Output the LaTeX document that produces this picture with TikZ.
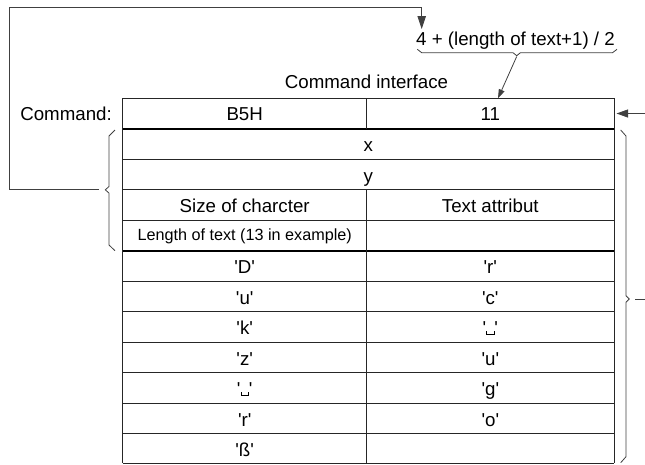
\documentclass[tikz,border=0pt]{standalone}
\usepackage{fontspec}
\newfontfamily\af{Liberation Sans}[Ligatures=TeXOff]
\usetikzlibrary{arrows.meta}
\newcommand{\vsp}{\leavevmode\hbox{\vrule width 0.9pt height 3.2pt\vrule width 6.5pt height 0.9pt\vrule width 0.9pt height 3.2pt}}
\begin{document}
\begin{tikzpicture}[x=1pt,y=-1pt,
  every node/.style={font=\af\fontsize{18.7}{21}\selectfont, inner sep=0pt},
  cell/.style={anchor=base},
  small/.style={anchor=base, font=\af\fontsize{16.2}{19}\selectfont},
  thin/.style={line width=0.8pt, draw=black!85},
  thick/.style={line width=1.5pt, draw=black},
  conn/.style={line width=0.8pt, draw=black!75},
  brace/.style={line width=0.8pt, draw=black!75, line join=miter}]
\useasboundingbox (0,0) rectangle (645,464);
% table grid
\foreach \yy in {159.3,189.8,220.3,281.3,311.8,342.3,372.8,403.3,433.8}
  \draw[thin] (122.7,\yy) -- (614,\yy);
\draw[thin] (122.7,98.3) -- (614,98.3);
\draw[thin] (122.7,463.4) -- (614,463.4);
\draw[thick] (122.7,128.8) -- (614,128.8);
\draw[thick] (122.7,250.8) -- (614,250.8);
\draw[thin] (122.7,98.3) -- (122.7,463.4);
\draw[thin] (614,98.3) -- (614,463.4);
\draw[thin] (366.7,98.3) -- (366.7,128.8);
\draw[thin] (366.7,189.8) -- (366.7,463.4);
% labels
\node[cell] (title) at (366.5,88.3) {Command interface};
\node[anchor=base east] (cmd) at (112,120.5) {Command:};
\node[cell] (b5h) at (244.7,120.5) {B5H};
\node[cell] (n11) at (490.3,120.5) {11};
\node[cell] (x) at (368.3,151.5) {x};
\node[cell] (y) at (368.3,182) {y};
\node[cell] (size) at (244.7,212.5) {Size of charcter};
\node[cell] (attr) at (490.3,212.5) {Text attribut};
\node[small] (len) at (244.7,240.5) {Length of text (13 in example)};
\node[cell] (l1) at (244.7,273.5) {'D'};
\node[cell] (r1) at (490.3,273.5) {'r'};
\node[cell] (l2) at (244.7,304) {'u'};
\node[cell] (r2) at (490.3,304) {'c'};
\node[cell] (l3) at (244.7,334.5) {'k'};
\node[cell] (r3) at (490.3,334.5) {'\vsp'};
\node[cell] (l4) at (244.7,365) {'z'};
\node[cell] (r4) at (490.3,365) {'u'};
\node[cell] (l5) at (244.7,395.5) {'\vsp'};
\node[cell] (r5) at (490.3,395.5) {'g'};
\node[cell] (l6) at (244.7,426) {'r'};
\node[cell] (r6) at (490.3,426) {'o'};
\node[cell] (l7) at (244.7,456.5) {'ß'};
\node[anchor=base west] (formula) at (416,45) {4 + (length of text+1) / 2};
% braces
\draw[brace] (417.3,49.3) -- (421.7,52.7) -- (513,52.7) -- (516.7,55.7) -- (520.4,52.7) -- (612.5,52.7) -- (617,49.3);
\draw[brace] (115,130) -- (109,136) -- (109,186.5) -- (105.3,189.8) -- (109,193.1) -- (109,245) -- (115,250.7);
\draw[brace] (620.7,130) -- (626,136) -- (626,295.7) -- (629.3,299) -- (626,302.3) -- (626,456.7) -- (620.7,462.7);
% connectors
\coordinate (btip) at (516.7,56.5);
\coordinate (c11top) at (498,98.3);
\coordinate (lbtip) at (99,189.8);
\coordinate (frame) at (9,7.3);
\coordinate (ftop) at (421.7,29);
\coordinate (rin) at (645,113.5);
\coordinate (cmdright) at (616.5,113.5);
\coordinate (rbtip) at (635,299);
\coordinate (rbout) at (645,299);
\draw[conn, -{Triangle[length=9pt,width=6pt]}] (btip) -- (c11top);
\draw[conn, -{Triangle[length=13pt,width=8.5pt]}] (lbtip) -| (frame) -| (ftop);
\draw[conn, -{Triangle[length=11.5pt,width=8pt]}] (rin) -- (cmdright);
\draw[conn] (rbtip) -- (rbout);
\end{tikzpicture}
\end{document}
